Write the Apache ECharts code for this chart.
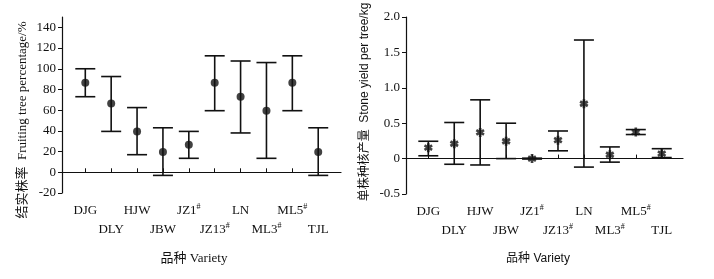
<!DOCTYPE html>
<html>
<head>
<meta charset="utf-8">
<script src="https://cdn.jsdelivr.net/npm/echarts@6.0.0/dist/echarts.min.js"></script>
<style>
  html, body { margin: 0; padding: 0; background: #fff; }
  #chart { width: 714px; height: 279px; }
</style>
</head>
<body>
<div id="chart"></div>
<script>
// varieties along the x axis (same order in both panels)
const varieties = ['DJG', 'DLY', 'HJW', 'JBW', 'JZ1#', 'JZ13#', 'LN', 'ML3#', 'ML5#', 'TJL'];

// left panel: fruiting tree percentage (%), mean and error bar ends
const fruitMean = [86.5, 66.5, 39.5, 19.5, 26.5, 86.5, 73, 59.5, 86.5, 19.5];
const fruitLow  = [73, 39.5, 17, -3, 13.5, 59.5, 38, 13.5, 59.5, -3];
const fruitHigh = [100, 92.5, 62.5, 43, 39.5, 112.5, 107.5, 106, 112.5, 43];

// right panel: stone yield per tree (kg)
const yieldMean = [0.155, 0.21, 0.37, 0.245, 0, 0.26, 0.775, 0.055, 0.375, 0.07];
const yieldLow  = [0.04, -0.08, -0.09, 0, -0.006, 0.11, -0.12, -0.05, 0.34, 0.015];
const yieldHigh = [0.245, 0.51, 0.83, 0.5, 0.006, 0.39, 1.675, 0.165, 0.41, 0.14];

const positions = varieties.map((v, i) => i + 1);

const SERIF = '"Liberation Serif", "Noto Sans CJK SC", serif';
const SANS = '"Liberation Sans", "Noto Sans CJK SC", sans-serif';
const INK = '#111';

// asterisk marker made of three crossing bars
const asterisk = 'path://M-1.5,-5L1.5,-5L1.5,5L-1.5,5Z' +
  'M3.58,3.799L-5.08,-1.201L-3.58,-3.799L5.08,1.201Z' +
  'M-5.08,1.201L3.58,-3.799L5.08,-1.201L-3.58,3.799Z';

function varietyLabel(value) {
  const idx = Math.round(value) - 1;
  const name = varieties[idx];
  if (name === undefined) return '';
  const base = name.replace('#', '');
  let txt = '{b|' + base + '}';
  if (name.indexOf('#') >= 0) txt += '{s|#}';
  // alternate labels between two rows
  return idx % 2 === 0 ? txt : '\n' + txt;
}

function xAxisFor(gridIndex, min, max) {
  return {
    type: 'value',
    gridIndex: gridIndex,
    min: min,
    max: max,
    splitLine: { show: false },
    axisLine: { show: true, lineStyle: { color: INK, width: 1.2 } },
    axisTick: { show: true, inside: true, length: 4, customValues: positions, lineStyle: { color: INK } },
    axisLabel: {
      customValues: positions,
      formatter: varietyLabel,
      margin: 8,
      lineHeight: 19,
      color: INK,
      rich: {
        b: { fontFamily: SERIF, fontSize: 13, color: INK, lineHeight: 19 },
        s: { fontFamily: SERIF, fontSize: 8, color: INK, padding: [0, 0, 7, 0] }
      }
    }
  };
}

function yAxisFor(gridIndex, min, max, interval, fmt) {
  return {
    type: 'value',
    gridIndex: gridIndex,
    min: min,
    max: max,
    interval: interval,
    splitLine: { show: false },
    axisLine: { show: true, lineStyle: { color: INK, width: 1.2 } },
    axisTick: { show: true, length: 4, lineStyle: { color: INK } },
    axisLabel: {
      showMaxLabel: fmt ? true : false,
      formatter: fmt,
      margin: 6,
      fontFamily: SERIF,
      fontSize: 13,
      color: INK
    }
  };
}

function errorBars(gridIndex, low, high) {
  return {
    type: 'custom',
    xAxisIndex: gridIndex,
    yAxisIndex: gridIndex,
    data: positions.map((x, i) => [x, low[i], high[i]]),
    encode: { x: 0, y: [1, 2] },
    renderItem: function (params, api) {
      const x = api.value(0);
      const top = api.coord([x, api.value(2)]);
      const bot = api.coord([x, api.value(1)]);
      const half = 10;
      const st = { stroke: INK, lineWidth: 1.6 };
      return {
        type: 'group',
        children: [
          { type: 'line', shape: { x1: top[0], y1: top[1], x2: bot[0], y2: bot[1] }, style: st },
          { type: 'line', shape: { x1: top[0] - half, y1: top[1], x2: top[0] + half, y2: top[1] }, style: st },
          { type: 'line', shape: { x1: bot[0] - half, y1: bot[1], x2: bot[0] + half, y2: bot[1] }, style: st }
        ]
      };
    },
    z: 2
  };
}

const chart = echarts.init(document.getElementById('chart'));

chart.setOption({
  animation: false,
  backgroundColor: '#fff',
  grid: [
    { left: 62, top: 17, width: 279, height: 176 },
    { left: 406, top: 17, width: 277, height: 177 }
  ],
  xAxis: [
    xAxisFor(0, 0.1, 10.88),
    xAxisFor(1, 0.14, 10.82)
  ],
  yAxis: [
    yAxisFor(0, -20, 150, 20, null),
    yAxisFor(1, -0.5, 2.0, 0.5, function (v) { return v === 0 ? '0' : v.toFixed(1); })
  ],
  graphic: [
    {
      type: 'text', x: 23, y: 120, rotation: Math.PI / 2,
      style: {
        text: '结实株率  Fruiting tree percentage/%',
        font: '13px ' + SERIF, fill: INK, align: 'center', verticalAlign: 'middle'
      }
    },
    {
      type: 'text', x: 194, y: 259,
      style: {
        text: '品种 Variety',
        font: '13px ' + SERIF, fill: INK, align: 'center', verticalAlign: 'middle'
      }
    },
    {
      type: 'text', x: 365, y: 102, rotation: Math.PI / 2,
      style: {
        text: '单株种核产量  Stone yield per tree/kg',
        font: '12px ' + SANS, fill: INK, align: 'center', verticalAlign: 'middle'
      }
    },
    {
      type: 'text', x: 538, y: 259,
      style: {
        text: '品种 Variety',
        font: '12px ' + SANS, fill: INK, align: 'center', verticalAlign: 'middle'
      }
    }
  ],
  series: [
    errorBars(0, fruitLow, fruitHigh),
    {
      type: 'scatter',
      xAxisIndex: 0,
      yAxisIndex: 0,
      symbol: 'circle',
      symbolSize: 8,
      itemStyle: { color: INK },
      data: positions.map((x, i) => [x, fruitMean[i]]),
      z: 3
    },
    errorBars(1, yieldLow, yieldHigh),
    {
      type: 'scatter',
      xAxisIndex: 1,
      yAxisIndex: 1,
      symbol: asterisk,
      symbolSize: 9,
      itemStyle: { color: INK },
      data: positions.map((x, i) => [x, yieldMean[i]]),
      z: 3
    }
  ]
});
</script>
</body>
</html>
